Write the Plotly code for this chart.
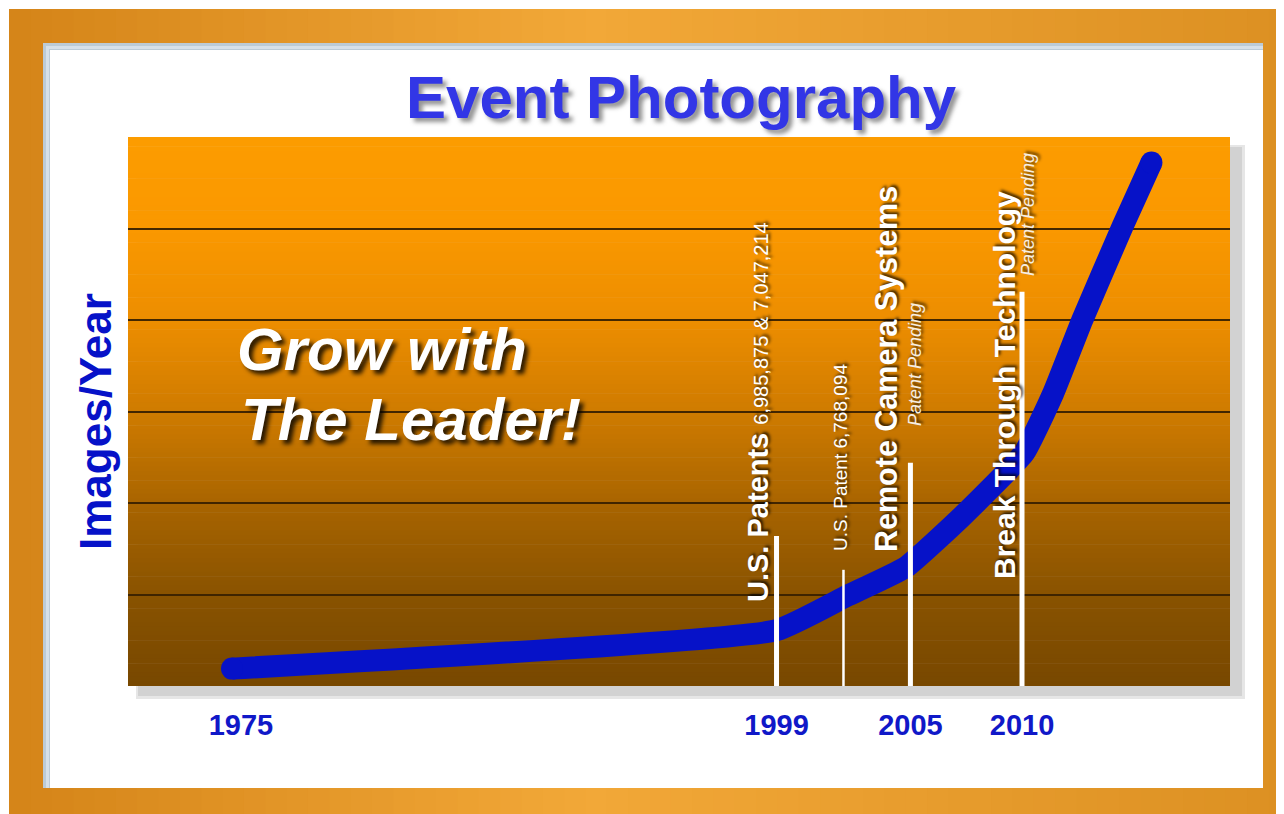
import plotly.graph_objects as go

# ---------------- data ----------------
line_years = [1974.6, 1999.0, 2002.2, 2004.8, 2007.3, 2010.1, 2011.4, 2012.7, 2014.5, 2015.8]
line_values = [0.19, 0.61, 0.99, 1.30, 1.85, 2.55, 3.20, 4.00, 5.02, 5.72]

event_years = [1999, 2002, 2005, 2010]
event_heights = [1.64, 1.27, 2.44, 4.31]
event_widths = [5, 2.5, 5, 5]

tick_years = [1975, 1999, 2005, 2010]
tick_labels = ["1975", "1999", "2005", "2010"]

title_text = "Event Photography"
y_title = "Images/Year"
slogan_lines = ["Grow with", "The Leader!"]

# ---------------- layout geometry (screen pixels) ----------------
W, H = 1284, 814
OFF = 8  # page body margin
L, R, T, B = 128, 1230, 137, 686
FONT = "Liberation Sans, Arial, Helvetica, sans-serif"
BLUE = "#0612c8"


def px(x):
    return (x - L) / (R - L)


def py(y):
    return (B - y) / (B - T)


def lerp(c1, c2, t):
    return tuple(round(a + (b - a) * t) for a, b in zip(c1, c2))


def rgb(c):
    return "rgb(%d,%d,%d)" % c


def grad(stops, t):
    for j in range(len(stops) - 1):
        if stops[j][0] <= t <= stops[j + 1][0]:
            tt = (t - stops[j][0]) / (stops[j + 1][0] - stops[j][0])
            return lerp(stops[j][1], stops[j + 1][1], tt)
    return stops[-1][1]


shapes = []

# orange frame (horizontal sheen)
frame_stops = [(0.0, (212, 132, 24)), (0.45, (242, 168, 56)), (1.0, (220, 144, 34))]
n = 60
x0f, x1f = 9, 1290
for i in range(n):
    col = grad(frame_stops, (i + 0.5) / n)
    xa = x0f + (x1f - x0f) * i / n
    xb = x0f + (x1f - x0f) * (i + 1) / n + 1
    shapes.append(dict(type="rect", xref="paper", yref="paper", layer="below",
                       x0=px(xa), x1=px(xb), y0=py(9), y1=py(830),
                       fillcolor=rgb(col), line=dict(width=0)))

# white inner panel
shapes.append(dict(type="rect", xref="paper", yref="paper", layer="below",
                   x0=px(43), x1=px(1263), y0=py(43), y1=py(788),
                   fillcolor="white", line=dict(width=0)))
# bluish inner bevel (left / top)
for (xa, xb, ya, yb, c) in [(43, 50, 43, 788, "#bccbd6"), (43, 1263, 43, 50, "#bccbd6"),
                            (46, 49, 46, 788, "#d6e0e8"), (46, 1263, 46, 49, "#d6e0e8")]:
    shapes.append(dict(type="rect", xref="paper", yref="paper", layer="below",
                       x0=px(xa), x1=px(xb), y0=py(ya), y1=py(yb),
                       fillcolor=c, line=dict(width=0)))

# plot drop shadow
shapes.append(dict(type="rect", xref="paper", yref="paper", layer="below",
                   x0=px(136), x1=px(1245), y0=py(145), y1=py(699),
                   fillcolor="#e6e6e6", line=dict(width=0)))
shapes.append(dict(type="rect", xref="paper", yref="paper", layer="below",
                   x0=px(138), x1=px(1242), y0=py(147), y1=py(696),
                   fillcolor="#d2d2d2", line=dict(width=0)))

# plot-area vertical gradient
grad_stops = [(0.0, (252, 156, 0)), (0.17, (250, 152, 0)), (0.34, (236, 141, 0)),
              (0.51, (205, 122, 0)), (0.68, (166, 99, 0)), (0.84, (136, 82, 0)), (1.0, (120, 72, 0))]
nb = 120
for i in range(nb):
    col = grad(grad_stops, (i + 0.5) / nb)
    ya = T + (B - T) * i / nb
    yb = T + (B - T) * (i + 1) / nb + 0.6
    shapes.append(dict(type="rect", xref="paper", yref="paper", layer="below",
                       x0=0, x1=1, y0=py(ya), y1=py(min(yb, B)),
                       fillcolor=rgb(col), line=dict(width=0)))

fig = go.Figure()

# main growth line
fig.add_trace(go.Scatter(
    x=line_years, y=line_values, mode="lines",
    line=dict(color=BLUE, width=22, shape="spline", smoothing=0.4),
    hoverinfo="skip", showlegend=False))
# rounded ends
fig.add_trace(go.Scatter(
    x=[line_years[0], line_years[-1]], y=[line_values[0], line_values[-1]], mode="markers",
    marker=dict(size=22, color=BLUE, opacity=1, line=dict(width=0)),
    hoverinfo="skip", showlegend=False))

# event markers (white vertical lines)
for yr, h, w in zip(event_years, event_heights, event_widths):
    fig.add_trace(go.Scatter(
        x=[yr, yr], y=[0, h], mode="lines",
        line=dict(color="white", width=w),
        hoverinfo="skip", showlegend=False, cliponaxis=False))

SH = "2px 2px 3px rgba(0,0,0,0.75)"
SLOGAN_FONT = dict(family=FONT, size=60, color="white", weight="bold", style="italic",
                   shadow="4px 4px 4px rgba(0,0,0,0.8)")
annotations = [
    dict(text=title_text, x=px(681), y=py(97), xanchor="center", yanchor="middle",
         font=dict(family=FONT, size=60, color="#3236e6", weight="bold",
                   shadow="4px 4px 4px rgba(60,60,60,0.55)")),
    dict(text=y_title, x=px(95), y=py(422), textangle=-90, xanchor="center", yanchor="middle",
         font=dict(family=FONT, size=44, color=BLUE, weight="bold")),
    dict(text=slogan_lines[0], x=px(235), y=py(349), xanchor="left", yanchor="middle",
         font=SLOGAN_FONT),
    dict(text=slogan_lines[1], x=px(239), y=py(419), xanchor="left", yanchor="middle",
         font=SLOGAN_FONT),
    dict(text="<b>U.S. Patents</b> <span style='font-size:20px'>6,985,875 &amp; 7,047,214</span>",
         x=px(758), y=py(412), textangle=-90, xanchor="center", yanchor="middle",
         font=dict(family=FONT, size=29, color="white", shadow=SH)),
    dict(text="U.S. Patent 6,768,094", x=px(840), y=py(458), textangle=-90,
         xanchor="center", yanchor="middle",
         font=dict(family=FONT, size=19, color="white", shadow=SH)),
    dict(text="<b>Remote Camera Systems</b>", x=px(886), y=py(369), textangle=-90,
         xanchor="center", yanchor="middle",
         font=dict(family=FONT, size=30.5, color="white", shadow=SH)),
    dict(text="<i>Patent Pending</i>", x=px(915), y=py(365), textangle=-90,
         xanchor="center", yanchor="middle",
         font=dict(family=FONT, size=18, color="#f6eee2", shadow=SH)),
    dict(text="<b>Break Through Technology</b>", x=px(1004), y=py(385), textangle=-90,
         xanchor="center", yanchor="middle",
         font=dict(family=FONT, size=30, color="white", shadow=SH)),
    dict(text="<i>Patent Pending</i>", x=px(1028), y=py(215), textangle=-90,
         xanchor="center", yanchor="middle",
         font=dict(family=FONT, size=18, color="#f6eee2", shadow=SH)),
]
for a in annotations:
    a.update(xref="paper", yref="paper", showarrow=False)

fig.update_layout(
    width=W, height=H, autosize=False,
    margin=dict(l=L - OFF, r=W - (R - OFF), t=T - OFF, b=H - (B - OFF), pad=0),
    paper_bgcolor="white", plot_bgcolor="rgba(0,0,0,0)",
    shapes=shapes, annotations=annotations, showlegend=False,
    xaxis=dict(range=[1969.94, 2019.32], tickvals=tick_years, ticktext=tick_labels,
               showgrid=False, zeroline=False, showline=False,
               ticks="outside", ticklen=13, tickcolor="rgba(0,0,0,0)",
               tickfont=dict(family=FONT, size=29, color="#1018c8", weight="bold")),
    yaxis=dict(range=[0, 6], dtick=1, showticklabels=False, zeroline=False, showline=False,
               showgrid=True, gridcolor="rgba(58,34,0,0.95)", gridwidth=1.6),
)

fig.write_html("out.html")
